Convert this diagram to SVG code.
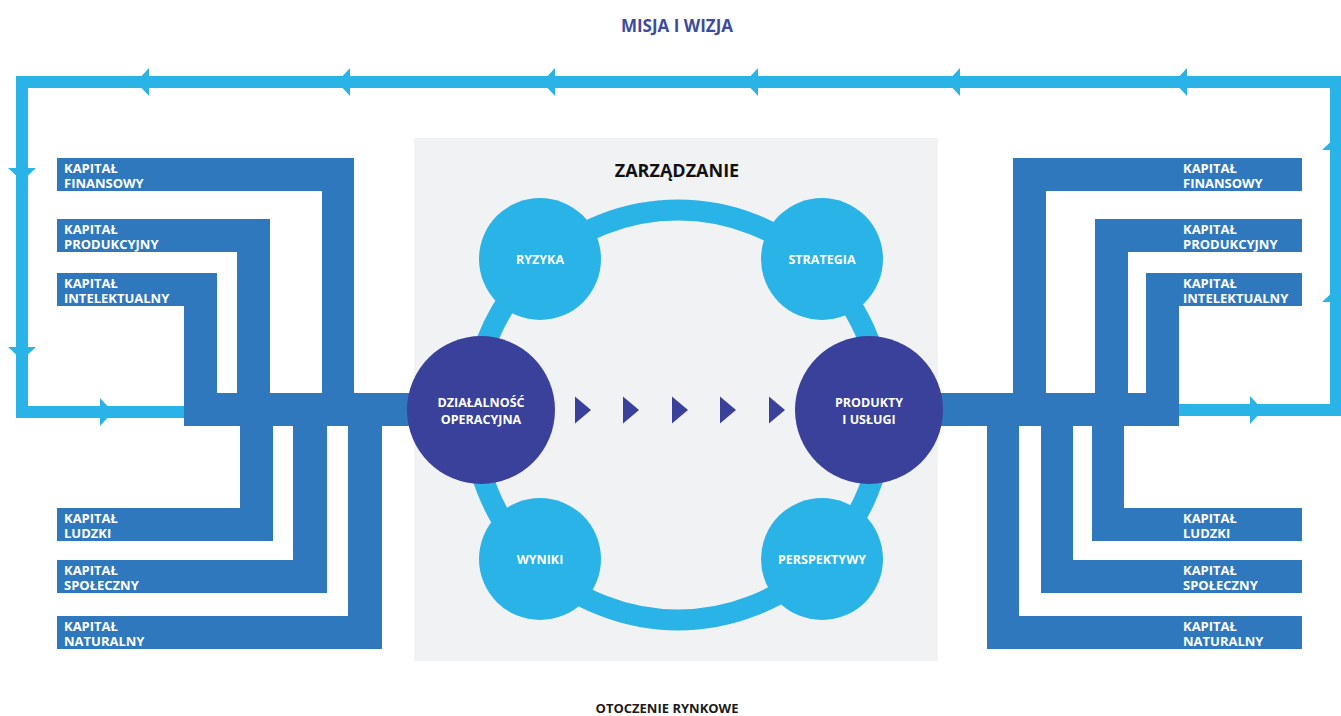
<svg xmlns="http://www.w3.org/2000/svg" xmlns:xlink="http://www.w3.org/1999/xlink" width="1341" height="716" viewBox="0 0 1341 716">
<style>
.pipe{fill:#2f78be}
.loop{fill:none;stroke:#2ab3e6;stroke-width:12;stroke-linejoin:miter}
.ah{fill:#2ab3e6}
.ring{fill:none;stroke:#2ab3e6;stroke-width:21}
.sc{fill:#2ab3e6}
.bc{fill:#39419a}
.chev{fill:#39419a}
.t{font-family:"Open Sans","Liberation Sans",sans-serif;font-weight:700}
.cap{font-size:13px;fill:#ffffff}
.ct{font-size:12.5px;fill:#ffffff;text-anchor:middle}
.bt{font-size:12.5px;fill:#ffffff;text-anchor:middle}
</style>
<defs>
<path id="arr" d="M0,0 L13,-14 L13,14 Z"/>
<path id="chv" d="M0,-13.5 L16,0 L0,13.5 Z"/>
</defs>
<rect width="1341" height="716" fill="#ffffff"/>
<rect id="panel" x="414" y="138" width="524" height="523" fill="#f1f2f4"/>

<g id="connectors">
<circle class="ring" cx="678" cy="415" r="205"/>
<rect class="pipe" x="184" y="393" width="280" height="33"/>
<rect class="pipe" x="890" y="393" width="289" height="33"/>
<path class="loop" d="M1178,410 H1336 V82 H22 V412 H186"/>
<g class="ah">
<use xlink:href="#arr" transform="translate(136,82)"/>
<use xlink:href="#arr" transform="translate(337,82)"/>
<use xlink:href="#arr" transform="translate(542,82)"/>
<use xlink:href="#arr" transform="translate(745,82)"/>
<use xlink:href="#arr" transform="translate(947,82)"/>
<use xlink:href="#arr" transform="translate(1174,82)"/>
<use xlink:href="#arr" transform="translate(22,181) rotate(-90)"/>
<use xlink:href="#arr" transform="translate(22,360) rotate(-90)"/>
<use xlink:href="#arr" transform="translate(113,412) rotate(180)"/>
<use xlink:href="#arr" transform="translate(1263,410) rotate(180)"/>
<use xlink:href="#arr" transform="translate(1336,137) rotate(90)"/>
<use xlink:href="#arr" transform="translate(1336,289) rotate(90)"/>
</g>
<g class="chev">
<use xlink:href="#chv" transform="translate(575,410)"/>
<use xlink:href="#chv" transform="translate(623,410)"/>
<use xlink:href="#chv" transform="translate(672,410)"/>
<use xlink:href="#chv" transform="translate(720,410)"/>
<use xlink:href="#chv" transform="translate(769,410)"/>
</g>
</g>

<g id="l-finansowy">
<path class="pipe" d="M57,158 H354 V426 H322 V191 H57 Z"/>
<text class="t cap" x="64" y="172.5">KAPITAŁ</text><text class="t cap" x="64" y="188">FINANSOWY</text>
</g>
<g id="l-produkcyjny">
<path class="pipe" d="M57,219 H270 V426 H237 V252 H57 Z"/>
<text class="t cap" x="64" y="233.5">KAPITAŁ</text><text class="t cap" x="64" y="249">PRODUKCYJNY</text>
</g>
<g id="l-intelektualny">
<path class="pipe" d="M57,273 H217 V426 H184 V306 H57 Z"/>
<text class="t cap" x="64" y="287.5">KAPITAŁ</text><text class="t cap" x="64" y="303">INTELEKTUALNY</text>
</g>
<g id="l-ludzki">
<path class="pipe" d="M240,393 H273 V541 H57 V508 H240 Z"/>
<text class="t cap" x="64" y="522.5">KAPITAŁ</text><text class="t cap" x="64" y="538">LUDZKI</text>
</g>
<g id="l-spoleczny">
<path class="pipe" d="M293,393 H327 V593 H57 V560 H293 Z"/>
<text class="t cap" x="64" y="574.5">KAPITAŁ</text><text class="t cap" x="64" y="590">SPOŁECZNY</text>
</g>
<g id="l-naturalny">
<path class="pipe" d="M348,393 H382 V649 H57 V616 H348 Z"/>
<text class="t cap" x="64" y="630.5">KAPITAŁ</text><text class="t cap" x="64" y="646">NATURALNY</text>
</g>

<g id="r-finansowy">
<path class="pipe" d="M1013,158 H1302 V191 H1046 V426 H1013 Z"/>
<text class="t cap" x="1183" y="172.5">KAPITAŁ</text><text class="t cap" x="1183" y="188">FINANSOWY</text>
</g>
<g id="r-produkcyjny">
<path class="pipe" d="M1095,219 H1302 V252 H1128 V426 H1095 Z"/>
<text class="t cap" x="1183" y="233.5">KAPITAŁ</text><text class="t cap" x="1183" y="249">PRODUKCYJNY</text>
</g>
<g id="r-intelektualny">
<path class="pipe" d="M1146,273 H1302 V306 H1179 V426 H1146 Z"/>
<text class="t cap" x="1183" y="287.5">KAPITAŁ</text><text class="t cap" x="1183" y="303">INTELEKTUALNY</text>
</g>
<g id="r-ludzki">
<path class="pipe" d="M1092,393 H1124 V508 H1302 V541 H1092 Z"/>
<text class="t cap" x="1183" y="522.5">KAPITAŁ</text><text class="t cap" x="1183" y="538">LUDZKI</text>
</g>
<g id="r-spoleczny">
<path class="pipe" d="M1041,393 H1073 V560 H1302 V593 H1041 Z"/>
<text class="t cap" x="1183" y="574.5">KAPITAŁ</text><text class="t cap" x="1183" y="590">SPOŁECZNY</text>
</g>
<g id="r-naturalny">
<path class="pipe" d="M987,393 H1019 V616 H1302 V649 H987 Z"/>
<text class="t cap" x="1183" y="630.5">KAPITAŁ</text><text class="t cap" x="1183" y="646">NATURALNY</text>
</g>

<g id="ryzyka"><circle class="sc" cx="540" cy="259" r="61"/><text class="t ct" x="540" y="263.5">RYZYKA</text></g>
<g id="strategia"><circle class="sc" cx="822" cy="259" r="61"/><text class="t ct" x="822" y="263.5">STRATEGIA</text></g>
<g id="wyniki"><circle class="sc" cx="540" cy="559" r="61"/><text class="t ct" x="540" y="563.5">WYNIKI</text></g>
<g id="perspektywy"><circle class="sc" cx="822" cy="559" r="61"/><text class="t ct" x="822" y="563.5">PERSPEKTYWY</text></g>

<g id="dzialalnosc"><circle class="bc" cx="481" cy="410" r="74"/><text class="t bt" x="481" y="407">DZIAŁALNOŚĆ</text><text class="t bt" x="481" y="424">OPERACYJNA</text></g>
<g id="produkty"><circle class="bc" cx="869" cy="410" r="74"/><text class="t bt" x="869" y="407">PRODUKTY</text><text class="t bt" x="869" y="424">I USŁUGI</text></g>

<g id="titles">
<text class="t" x="677" y="32" font-size="17" fill="#3c4b9b" text-anchor="middle">MISJA I WIZJA</text>
<text class="t" x="677" y="177" font-size="18" fill="#111111" text-anchor="middle">ZARZĄDZANIE</text>
<text class="t" x="667" y="713" font-size="13" fill="#1a1a1a" text-anchor="middle">OTOCZENIE RYNKOWE</text>
</g>
</svg>
